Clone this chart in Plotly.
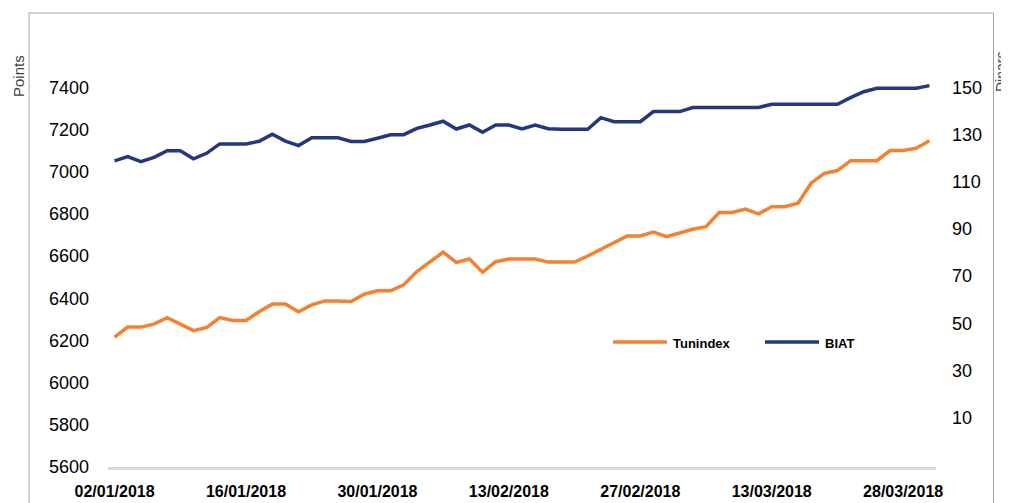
import plotly.graph_objects as go

dates = [
    "02/01/2018", "03/01/2018", "04/01/2018", "05/01/2018", "08/01/2018", "09/01/2018",
    "10/01/2018", "11/01/2018", "12/01/2018", "15/01/2018", "16/01/2018", "17/01/2018",
    "18/01/2018", "19/01/2018", "22/01/2018", "23/01/2018", "24/01/2018", "25/01/2018",
    "26/01/2018", "29/01/2018", "30/01/2018", "31/01/2018",
    "01/02/2018", "02/02/2018", "05/02/2018", "06/02/2018", "07/02/2018", "08/02/2018",
    "09/02/2018", "12/02/2018", "13/02/2018", "14/02/2018", "15/02/2018", "16/02/2018",
    "19/02/2018", "20/02/2018", "21/02/2018", "22/02/2018", "23/02/2018", "26/02/2018",
    "27/02/2018", "28/02/2018",
    "01/03/2018", "02/03/2018", "05/03/2018", "06/03/2018", "07/03/2018", "08/03/2018",
    "09/03/2018", "12/03/2018", "13/03/2018", "14/03/2018", "15/03/2018", "16/03/2018",
    "19/03/2018", "21/03/2018", "22/03/2018", "23/03/2018", "26/03/2018", "27/03/2018",
    "28/03/2018", "29/03/2018", "30/03/2018",
]

tunindex = [
    6215, 6263, 6263, 6277, 6308, 6277, 6246, 6261, 6308, 6294, 6294, 6336,
    6372, 6372, 6336, 6368, 6387, 6387, 6384, 6419, 6435, 6435,
    6463, 6526, 6573, 6618, 6570, 6586, 6523, 6573, 6586, 6586, 6586, 6571,
    6571, 6571, 6600, 6632, 6661, 6695, 6695, 6713,
    6692, 6711, 6727, 6739, 6806, 6806, 6822, 6800, 6834, 6834, 6850, 6945,
    6992, 7005, 7052, 7052, 7052, 7100, 7100, 7111, 7146,
]

biat = [
    118.8, 120.6, 118.5, 120.3, 123.1, 123.1, 119.7, 122.0, 126.0, 126.0, 126.0, 127.1,
    130.1, 127.2, 125.3, 128.6, 128.6, 128.6, 127.0, 127.0, 128.4, 129.9,
    129.9, 132.6, 134.0, 135.6, 132.3, 134.0, 130.9, 134.0, 134.0, 132.3, 134.0, 132.4,
    132.2, 132.2, 132.2, 137.1, 135.4, 135.4, 135.4, 139.7,
    139.7, 139.7, 141.4, 141.4, 141.4, 141.4, 141.4, 141.4, 142.8, 142.8, 142.8, 142.8,
    142.8, 142.8, 145.6, 148.1, 149.6, 149.6, 149.6, 149.6, 150.7,
]

x_ticks = ["02/01/2018", "16/01/2018", "30/01/2018", "13/02/2018",
           "27/02/2018", "13/03/2018", "28/03/2018"]
left_ticks = [5600, 5800, 6000, 6200, 6400, 6600, 6800, 7000, 7200, 7400]
right_ticks = [10, 30, 50, 70, 90, 110, 130, 150]

ORANGE = "#F4812F"
NAVY = "#24387E"
FONT = "Liberation Sans, Arial, sans-serif"

W, H = 1009, 503
OFF = 8  # page body margin
# plot area in page pixels
PL, PR, PT, PB = 108, 936, 45, 467
L, T = PL - OFF, PT - OFF
R = W - (PR - OFF)
B = H - (PB - OFF)
pw, ph = PR - PL, PB - PT


def px(x):
    return (x - PL) / pw


def py(y):
    return (PB - y) / ph


fig = go.Figure()
fig.add_trace(go.Scatter(x=dates, y=tunindex, name="Tunindex", mode="lines",
                         line=dict(color=ORANGE, width=3.5), yaxis="y"))
fig.add_trace(go.Scatter(x=dates, y=biat, name="BIAT", mode="lines",
                         line=dict(color=NAVY, width=3.5), yaxis="y2"))

fig.update_layout(
    width=W, height=H,
    margin=dict(l=L, r=R, t=T, b=B, autoexpand=False),
    paper_bgcolor="white", plot_bgcolor="white",
    showlegend=False,
    font=dict(family=FONT, color="#000000"),
    xaxis=dict(
        type="category", categoryorder="array", categoryarray=dates,
        range=[-0.5, len(dates) - 0.5],
        tickmode="array", tickvals=x_ticks, ticktext=x_ticks,
        tickfont=dict(family=FONT, size=16, color="#000000", weight="bold"),
        ticklabelstandoff=8, automargin=False,
        showgrid=False, zeroline=False,
        showline=True, linecolor="#d9d9d9", linewidth=2.5,
        ticks="",
    ),
    yaxis=dict(
        range=[5600, 7600], tickmode="array", tickvals=left_ticks,
        tickfont=dict(family=FONT, size=18, color="#000000"),
        showgrid=False, zeroline=False, showline=False, ticks="",
        ticklabelstandoff=18, automargin=False,
    ),
    yaxis2=dict(
        overlaying="y", side="right",
        range=[-10.9, 167.9], tickmode="array", tickvals=right_ticks,
        tickfont=dict(family=FONT, size=18, color="#000000"),
        showgrid=False, zeroline=False, showline=False, ticks="",
        ticklabelstandoff=15, automargin=False,
    ),
)

# chart border
fig.add_shape(type="rect", xref="paper", yref="paper",
              x0=px(29), x1=px(993.5), y0=py(530), y1=py(13),
              line=dict(color="#a6a6a6", width=1), fillcolor="rgba(0,0,0,0)",
              layer="below")

# axis titles
fig.add_annotation(text="Points", xref="paper", yref="paper",
                   x=px(18), y=py(76), textangle=-90, showarrow=False,
                   xanchor="center", yanchor="middle",
                   font=dict(family=FONT, size=15, color="#404040"))
fig.add_annotation(text="Dinars", xref="paper", yref="paper",
                   x=px(1001), y=py(72), textangle=-90, showarrow=False,
                   xanchor="center", yanchor="middle",
                   font=dict(family=FONT, size=14, color="#404040"))

# legend (manual)
legend_items = [("Tunindex", ORANGE, 613, 667), ("BIAT", NAVY, 765, 819)]
for name, col, x0, x1 in legend_items:
    fig.add_shape(type="line", xref="paper", yref="paper",
                  x0=px(x0), x1=px(x1), y0=py(342), y1=py(342),
                  line=dict(color=col, width=3.5))
    fig.add_annotation(text="<b>%s</b>" % name, xref="paper", yref="paper",
                       x=px(x1 + 4), y=py(343), showarrow=False,
                       xanchor="left", yanchor="middle",
                       font=dict(family=FONT, size=13, color="#000000"))

fig.write_html("out.html")
